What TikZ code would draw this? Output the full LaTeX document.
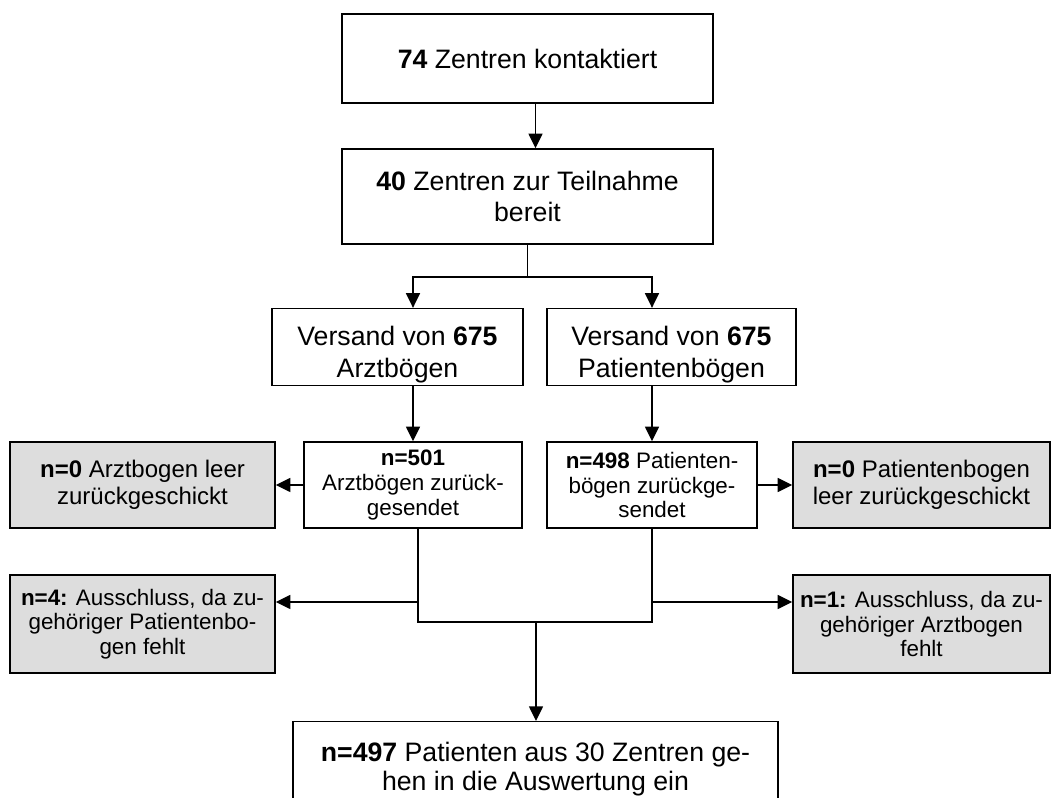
\documentclass[tikz,border=0pt]{standalone}
\usepackage{fontspec}
\setmainfont{Liberation Sans}
\usetikzlibrary{arrows.meta}
\definecolor{boxgray}{RGB}{221,221,221}
\newcommand{\lowline}{\rule{0pt}{26pt}}

\begin{document}
\begin{tikzpicture}[x=0.75pt,y=-0.75pt,line width=1.1pt,
  >={Triangle[length=11pt,width=10.5pt]},
  box/.style={draw,align=center,inner sep=2pt,font=\fontsize{20}{23.5}\selectfont},
  smallbox/.style={box,font=\fontsize{16.8}{18.5}\selectfont},
  greybox/.style={box,fill=boxgray,font=\fontsize{18}{20.5}\selectfont},
  greysmall/.style={smallbox,fill=boxgray}]
\useasboundingbox (0,0) rectangle (1051,798);

\node[box,minimum width=278.25pt,minimum height=66.75pt] (kont) at (527.5,58.5) {\textbf{74} Zentren kontaktiert};
\node[box,minimum width=278.25pt,minimum height=71.25pt] (bereit) at (527.5,196.5) {\textbf{40} Zentren zur Teilnahme\\bereit};
\node[box,minimum width=188.25pt,minimum height=54pt] (vArzt) at (397.5,347) {\lowline Versand von \textbf{675}\\Arztbögen};
\node[box,minimum width=186.75pt,minimum height=54pt] (vPat) at (671.5,347) {\lowline Versand von \textbf{675}\\Patientenbögen};
\node[smallbox,minimum width=163.5pt,minimum height=64.5pt] (rArzt) at (413,485) {\textbf{n=501}\\Arztbögen zurück-\\gesendet};
\node[smallbox,minimum width=157.5pt,minimum height=64.5pt] (rPat) at (652,485) {\textbf{n=498} Patienten-\\bögen zurückge-\\sendet};
\node[greybox,minimum width=198.75pt,minimum height=64.5pt] (leerA) at (142.5,485) {\textbf{n=0} Arztbogen leer\\zurückgeschickt};
\node[greybox,minimum width=192.75pt,minimum height=64.5pt] (leerP) at (921.5,485) {\textbf{n=0} Patientenbogen\\leer zurückgeschickt};
\node[greysmall,minimum width=198.75pt,minimum height=73.5pt] (ausA) at (142.5,624) {\textbf{n=4:} Ausschluss, da zu-\\gehöriger Patientenbo-\\gen fehlt};
\node[greysmall,minimum width=192.75pt,minimum height=73.5pt] (ausP) at (921.5,624) {\textbf{n=1:} Ausschluss, da zu-\\gehöriger Arztbogen\\fehlt};
\node[box,anchor=north,minimum width=363.75pt,inner ysep=15pt,font=\fontsize{20}{22}\selectfont] (ausw) at (535.5,721) {\textbf{n=497} Patienten aus 30 Zentren ge-\\hen in die Auswertung ein};

\coordinate (split) at (527.5,277);
\coordinate (jl) at (418,622);
\coordinate (jr) at (652,622);
\coordinate (jm) at (536,622);
\coordinate (al) at (418,602);
\coordinate (ar) at (652,602);

\draw[->] ([xshift=6pt]kont.south) -- ([xshift=6pt]kont.south |- bereit.north);
\draw (bereit) -- (split);
\draw[->] (split) -| (vArzt.north -| rArzt);
\draw[->] (split) -| (vPat.north -| rPat);
\draw[->] (vArzt.south -| rArzt) -- (rArzt);
\draw[->] (vPat.south -| rPat) -- (rPat);
\draw[->] (rArzt) edge (leerA);
\draw[->] (rPat) edge (leerP);
\draw (rArzt.south -| jl) -- (jl) -- (jr) -- (rPat.south -| jr);
\draw[->] (al) -- (al -| ausA.east);
\draw[->] (ar) -- (ar -| ausP.west);
\draw[->] (jm) -- (jm |- ausw.north);
\end{tikzpicture}
\end{document}
